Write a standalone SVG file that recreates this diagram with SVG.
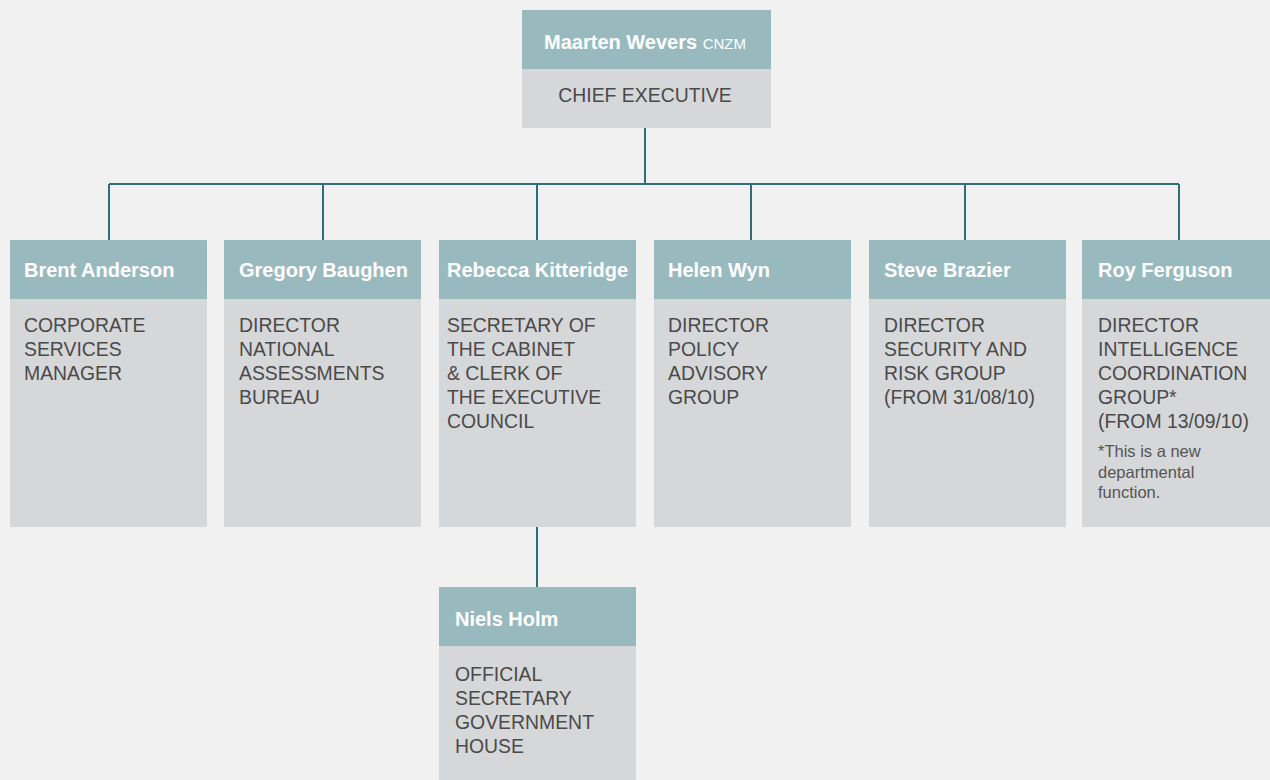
<svg xmlns="http://www.w3.org/2000/svg" width="1270" height="780" viewBox="0 0 1270 780">
<style>
.hd{fill:#98babf}
.bd{fill:#d6d7d9}
.nm{font-family:"Liberation Sans",Arial,sans-serif;font-weight:bold;font-size:20px;fill:#ffffff}
.sm{font-weight:normal;font-size:15px}
.tx{font-family:"Liberation Sans",Arial,sans-serif;font-size:19.4px;fill:#4a4a4a}
.fn{font-family:"Liberation Sans",Arial,sans-serif;font-size:16.5px;fill:#555555}
.ln{stroke:#2e6e76;stroke-width:2;fill:none}
</style>
<rect width="1270" height="780" fill="#f1f1f1"/>
<g id="connectors">
<path class="ln" d="M645 128V184M109 184H1179M109 184V240M323 184V240M537 184V240M751 184V240M965 184V240M1179 184V240M537 527V587"/>
</g>
<g id="ceo">
<rect class="bd" x="522" y="10" width="249" height="118"/>
<rect class="hd" x="522" y="10" width="249" height="59"/>
<text class="nm" x="645" y="49" text-anchor="middle">Maarten Wevers <tspan class="sm">CNZM</tspan></text>
<text class="tx" x="645" y="102" text-anchor="middle">CHIEF EXECUTIVE</text>
</g>
<g id="anderson">
<rect class="bd" x="10" y="240" width="197" height="287"/>
<rect class="hd" x="10" y="240" width="197" height="59"/>
<text class="nm" x="24" y="277">Brent Anderson</text>
<text class="tx" x="24" y="332">CORPORATE</text>
<text class="tx" x="24" y="356">SERVICES</text>
<text class="tx" x="24" y="380">MANAGER</text>
</g>
<g id="baughen">
<rect class="bd" x="224" y="240" width="197" height="287"/>
<rect class="hd" x="224" y="240" width="197" height="59"/>
<text class="nm" x="239" y="277">Gregory Baughen</text>
<text class="tx" x="239" y="332">DIRECTOR</text>
<text class="tx" x="239" y="356">NATIONAL</text>
<text class="tx" x="239" y="380">ASSESSMENTS</text>
<text class="tx" x="239" y="404">BUREAU</text>
</g>
<g id="kitteridge">
<rect class="bd" x="439" y="240" width="197" height="287"/>
<rect class="hd" x="439" y="240" width="197" height="59"/>
<text class="nm" x="447" y="277">Rebecca Kitteridge</text>
<text class="tx" x="447" y="332">SECRETARY OF</text>
<text class="tx" x="447" y="356">THE CABINET</text>
<text class="tx" x="447" y="380">&amp; CLERK OF</text>
<text class="tx" x="447" y="404">THE EXECUTIVE</text>
<text class="tx" x="447" y="428">COUNCIL</text>
</g>
<g id="wyn">
<rect class="bd" x="654" y="240" width="197" height="287"/>
<rect class="hd" x="654" y="240" width="197" height="59"/>
<text class="nm" x="668" y="277">Helen Wyn</text>
<text class="tx" x="668" y="332">DIRECTOR</text>
<text class="tx" x="668" y="356">POLICY</text>
<text class="tx" x="668" y="380">ADVISORY</text>
<text class="tx" x="668" y="404">GROUP</text>
</g>
<g id="brazier">
<rect class="bd" x="869" y="240" width="197" height="287"/>
<rect class="hd" x="869" y="240" width="197" height="59"/>
<text class="nm" x="884" y="277">Steve Brazier</text>
<text class="tx" x="884" y="332">DIRECTOR</text>
<text class="tx" x="884" y="356">SECURITY AND</text>
<text class="tx" x="884" y="380">RISK GROUP</text>
<text class="tx" x="884" y="404">(FROM 31/08/10)</text>
</g>
<g id="ferguson">
<rect class="bd" x="1082" y="240" width="188" height="287"/>
<rect class="hd" x="1082" y="240" width="188" height="59"/>
<text class="nm" x="1098" y="277">Roy Ferguson</text>
<text class="tx" x="1098" y="332">DIRECTOR</text>
<text class="tx" x="1098" y="356">INTELLIGENCE</text>
<text class="tx" x="1098" y="380">COORDINATION</text>
<text class="tx" x="1098" y="404">GROUP*</text>
<text class="tx" x="1098" y="428">(FROM 13/09/10)</text>
<text class="fn" x="1098" y="457">*This is a new</text>
<text class="fn" x="1098" y="478">departmental</text>
<text class="fn" x="1098" y="498">function.</text>
</g>
<g id="holm">
<rect class="bd" x="439" y="587" width="197" height="193"/>
<rect class="hd" x="439" y="587" width="197" height="59"/>
<text class="nm" x="455" y="626">Niels Holm</text>
<text class="tx" x="455" y="681">OFFICIAL</text>
<text class="tx" x="455" y="705">SECRETARY</text>
<text class="tx" x="455" y="729">GOVERNMENT</text>
<text class="tx" x="455" y="753">HOUSE</text>
</g>
</svg>
